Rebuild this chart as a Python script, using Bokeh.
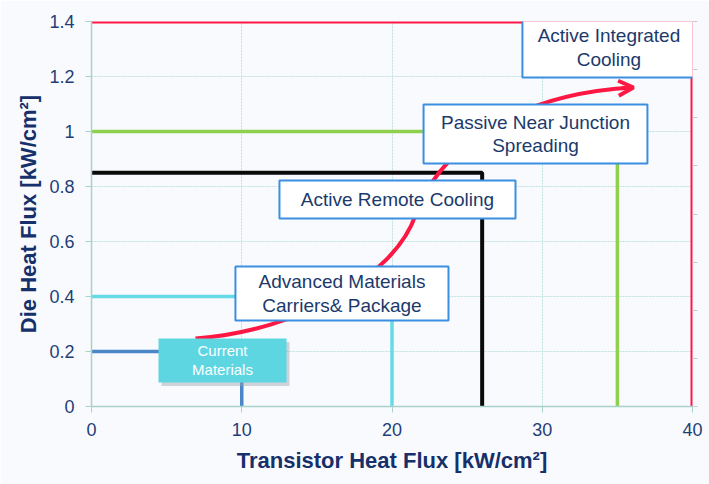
from bokeh.plotting import figure
from bokeh.models import Range1d, LinearAxis, Arrow, OpenHead, ColumnDataSource, BoxAnnotation, Label
from bokeh.core.properties import value
from bokeh.embed import file_html
from bokeh.resources import INLINE

# ---------------- data ----------------
x_ticks = [0, 10, 20, 30, 40]
y_ticks = [0, 0.2, 0.4, 0.6, 0.8, 1.0, 1.2, 1.4]
y_tick_labels = ["0", "0.2", "0.4", "0.6", "0.8", "1", "1.2", "1.4"]

# Each technology regime: transistor heat flux limit (x) and die heat flux limit (y)
regime_x = [10, 20, 26, 35, 40]
regime_y = [0.2, 0.4, 0.85, 1.0, 1.4]
regime_colors = ["#4a86c8", "#66dbe8", "#0a0a0a", "#8fd14f", "#ff1744"]
regime_widths = [3.5, 3.5, 4, 3.5, 4]

# label boxes: text lines, box extents (data coords)
box_labels = [
    ["Active Integrated", "Cooling"],
    ["Passive Near Junction", "Spreading"],
    ["Active Remote Cooling"],
    ["Advanced Materials", "Carriers& Package"],
]
box_left = [28.68, 22.1, 12.51, 9.58]
box_right = [40.2, 37.0, 28.22, 23.76]
box_bottom = [1.196, 0.884, 0.684, 0.313]
box_top = [1.415, 1.098, 0.822, 0.509]

cur_label = ["Current", "Materials"]
cur_box = (4.46, 12.98, 0.087, 0.247)

# curved trend arrow (two cubic bezier pieces)
arrow_x0 = [6.92, 21.56]
arrow_y0 = [0.247, 0.695]
arrow_cx0 = [13.91, 22.23]
arrow_cy0 = [0.276, 0.822]
arrow_cx1 = [20.17, 25.89]
arrow_cy1 = [0.476, 1.131]
arrow_x1 = [21.56, 36.07]
arrow_y1 = [0.695, 1.160]

FONT = "Liberation Sans"
BG = "#f9fafd"
TICK_COLOR = "#1f3e78"
LABEL_COLOR = "#15306a"
GRID = "#bfe2dc"
AXIS = "#a6d4cc"
BOX_TEXT = "#1b3a6b"
BOX_LINE = "#3a8fe0"
RED = "#ff1744"

p = figure(width=709, height=484,
           x_range=Range1d(0, 40), y_range=Range1d(0, 1.4),
           output_backend="svg", toolbar_location=None,
           min_border_left=91, min_border_right=17,
           min_border_top=21, min_border_bottom=78)
p.background_fill_color = BG
p.border_fill_color = BG
p.outline_line_color = None

# axes
p.xaxis.ticker = x_ticks
p.yaxis.ticker = y_ticks
p.yaxis.major_label_overrides = {t: l for t, l in zip(y_ticks, y_tick_labels)}
for ax in (p.xaxis[0], p.yaxis[0]):
    ax.axis_line_color = AXIS
    ax.axis_line_width = 1.5
    ax.major_tick_line_color = AXIS
    ax.major_tick_out = 6
    ax.major_tick_in = 0
    ax.minor_tick_line_color = None
    ax.major_label_text_font = FONT
    ax.major_label_text_font_size = "18px"
    ax.major_label_text_color = TICK_COLOR
    ax.axis_label_text_font = FONT
    ax.axis_label_text_font_size = "22px"
    ax.axis_label_text_font_style = "bold"
    ax.axis_label_text_color = LABEL_COLOR
p.xaxis.axis_label = "Transistor Heat Flux [kW/cm²]"
p.yaxis.axis_label = "Die Heat Flux [kW/cm²]"
p.xaxis.major_label_standoff = 10
p.yaxis.major_label_standoff = 11
p.xaxis.axis_label_standoff = 9
p.yaxis.axis_label_standoff = 5

# right auxiliary axis (ticks only)
p.extra_y_ranges = {"r": Range1d(0, 8)}
rax = LinearAxis(y_range_name="r", ticker=list(range(9)),
                 major_label_overrides={i: "" for i in range(9)},
                 major_label_standoff=0,
                 axis_line_color=None, major_tick_line_color="#c5cad4",
                 major_tick_out=5, major_tick_in=0, minor_tick_line_color=None)
p.add_layout(rax, "right")

# grid
p.xgrid.ticker = [10, 20, 30]
p.ygrid.ticker = y_ticks[1:-1]
p.xgrid.grid_line_color = GRID
p.ygrid.grid_line_color = GRID
p.xgrid.grid_line_dash = "2 1"
p.ygrid.grid_line_dash = "2 1"

# regime L-lines
src = ColumnDataSource(dict(
    xs=[[0, xe, xe] for xe in regime_x],
    ys=[[ye, ye, 0] for ye in regime_y],
    color=regime_colors, width=regime_widths))
p.multi_line("xs", "ys", source=src, line_color="color", line_width="width")

# curved arrow
p.bezier(x0=arrow_x0, y0=arrow_y0, x1=arrow_x1, y1=arrow_y1,
         cx0=arrow_cx0, cy0=arrow_cy0, cx1=arrow_cx1, cy1=arrow_cy1,
         line_color=RED, line_width=4)
p.add_layout(Arrow(end=OpenHead(size=15, line_color=RED, line_width=4),
                   x_start=35.3, y_start=1.158, x_end=arrow_x1[-1], y_end=arrow_y1[-1],
                   line_color=RED, line_width=4))

# current materials box (shadow + cyan fill)
cl, cr, cb, ct = cur_box
p.add_layout(BoxAnnotation(left=cl + 0.2, right=cr + 0.2, bottom=cb - 0.012, top=ct - 0.012,
                           fill_color="#9aa4ae", fill_alpha=0.45, line_color=None))
p.add_layout(BoxAnnotation(left=cl, right=cr, bottom=cb, top=ct,
                           fill_color="#5ed6e2", fill_alpha=1.0, line_color=None))
cx = (cl + cr) / 2
ch = (ct - cb)
for yy, s in zip([ct - ch * 0.28, ct - ch * 0.71], cur_label):
    p.add_layout(Label(x=cx, y=yy, text=s, text_font=FONT, text_font_size="15px",
                       text_color="#ffffff", text_align="center", text_baseline="middle"))

# white boxes with blue border
for l, r, b, t in zip(box_left, box_right, box_bottom, box_top):
    p.add_layout(BoxAnnotation(left=l, right=r, bottom=b, top=t,
                               fill_color="#ffffff", fill_alpha=1.0,
                               line_color=BOX_LINE, line_width=2, line_alpha=1.0))

for lines, l, r, b, t in zip(box_labels, box_left, box_right, box_bottom, box_top):
    xc = (l + r) / 2
    yc = (b + t) / 2
    n = len(lines)
    step = 0.084
    for i, s in enumerate(lines):
        p.add_layout(Label(x=xc, y=yc + (n - 1) / 2 * step - i * step, text=s,
                           text_font=FONT, text_font_size="19px", text_color=BOX_TEXT,
                           text_align="center", text_baseline="middle"))

open("out.html", "w").write(file_html(p, INLINE))
